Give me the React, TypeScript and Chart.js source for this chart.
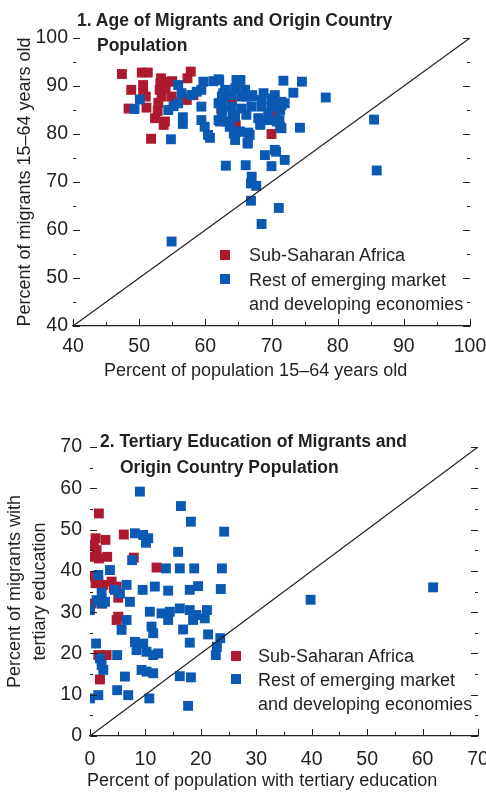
import React, { useEffect, useRef } from 'react';
import { Chart, registerables } from 'chart.js';

Chart.register(...registerables);

const RED = '#ad1a2e';
const BLUE = '#0a5ab4';
const INK = '#231f20';
const SANS = '"Liberation Sans", Arial, sans-serif';
const FONT_SIZE = 18;
const TICK_SIZE = 19.5;

// Panel 1: [percent of population 15–64, percent of migrants 15–64]
const ageSSA: number[][] = [
  [47.4, 92.5], [50.4, 92.8], [51.3, 92.8], [57.8, 93.0], [57.3, 91.6], [48.8, 89.2], [50.6, 90.2],
  [50.6, 88.5], [51.0, 87.8], [53.3, 91.6], [53.2, 90.6], [54.4, 90.9], [53.1, 89.2], [53.4, 87.8],
  [54.9, 87.8], [48.4, 85.3], [51.1, 85.5], [52.9, 86.5], [52.4, 83.3], [53.9, 82.6], [53.7, 81.9],
  [51.8, 79.0], [55.4, 86.7], [56.9, 87.4], [58.2, 88.1], [57.2, 87.1], [70.0, 80.0], [70.5, 84.4],
  [52.8, 84.8], [54.0, 89.5], [55.0, 91.0], [64.0, 86.7], [64.6, 81.8], [62.4, 85.2],
];
const ageRest: number[][] = [
  [49.3, 85.2], [50.1, 87.2], [54.8, 78.9], [56.6, 83.5], [56.6, 82.1], [54.4, 85.0], [55.2, 85.8],
  [55.9, 86.4], [55.9, 90.2], [56.4, 88.5], [57.9, 88.1], [58.7, 88.8], [59.4, 89.2], [59.7, 90.9],
  [61.2, 91.0], [62.0, 91.4], [62.7, 88.5], [59.4, 85.7], [59.4, 82.9], [59.9, 81.5], [60.4, 79.8],
  [60.7, 79.2], [62.0, 86.4], [62.5, 85.0], [62.0, 82.9], [63.2, 82.6], [63.7, 81.5], [64.1, 83.9],
  [64.3, 80.1], [65.2, 80.5], [66.5, 80.3], [66.4, 78.2], [68.3, 81.9], [69.5, 82.9], [71.2, 82.9],
  [71.5, 81.2], [70.8, 86.0], [72.0, 86.4], [70.5, 88.1], [68.8, 88.5], [67.1, 88.1], [66.0, 89.2],
  [66.2, 87.8], [64.5, 89.5], [64.7, 91.25], [65.3, 91.25], [63.0, 89.2], [62.7, 87.8], [62.2, 86.4],
  [62.1, 91.2], [71.8, 91.1], [74.6, 90.9], [73.3, 88.6], [78.2, 87.6], [74.3, 81.3],
  [62.5, 87.8], [64.0, 88.1], [65.5, 87.8], [67.0, 87.8], [68.5, 87.1], [70.0, 87.4], [71.5, 86.7],
  [62.5, 86.0], [64.0, 85.7], [65.5, 85.3], [67.0, 85.7], [68.5, 85.7], [70.0, 85.7], [71.5, 86.0],
  [62.5, 84.3], [64.5, 83.6], [66.2, 84.0], [68.0, 83.3], [69.5, 84.3], [71.3, 85.0], [62.2, 82.6],
  [63.7, 81.9], [65.2, 80.5], [66.7, 79.8], [68.3, 82.2], [70.8, 82.6], [71.3, 81.5], [64.5, 78.75],
  [66.4, 78.0], [70.5, 76.7], [69.0, 75.6], [70.7, 76.3], [72.0, 74.6], [63.1, 73.4], [66.1, 73.5],
  [70.0, 73.3], [67.0, 71.1], [66.9, 69.7], [67.7, 69.2], [66.9, 66.1], [68.5, 61.25], [71.1, 64.6],
  [54.9, 57.6], [85.5, 83.0], [85.9, 72.4],
];

// Panel 2: [percent of population with tertiary education, percent of migrants with tertiary education]
const eduSSA: number[][] = [
  [1.6, 53.9], [1.0, 47.9], [2.8, 47.5], [0.7, 46.2], [6.1, 48.8], [0.7, 43.4], [3.1, 43.4],
  [1.6, 43.0], [1.2, 45.0], [7.9, 43.2], [12.0, 40.8], [0.6, 38.6], [1.5, 37.4], [2.4, 36.6],
  [3.9, 37.4], [4.8, 36.2], [1.0, 37.0], [4.3, 35.8], [0.3, 32.1], [2.2, 32.1], [5.1, 33.5],
  [5.1, 28.9], [4.8, 28.1], [1.5, 19.6], [3.0, 19.6], [1.8, 13.7],
];
const eduRest: number[][] = [
  [9.0, 59.2], [16.4, 55.7], [18.2, 51.9], [24.2, 49.5], [8.1, 49.1], [9.6, 48.7], [10.5, 47.9],
  [10.1, 46.8], [15.9, 44.6], [7.6, 42.6], [13.7, 40.6], [16.2, 40.6], [18.8, 40.6], [23.8, 40.6],
  [3.6, 40.2], [1.5, 39.0], [6.6, 36.6], [9.5, 35.4], [11.7, 36.2], [14.1, 35.2], [18.0, 35.4],
  [19.5, 36.3], [23.6, 35.6], [4.5, 35.4], [2.1, 34.7], [39.8, 33.0], [61.9, 36.0], [0.0, 30.5],
  [1.2, 32.9], [2.1, 32.1], [2.7, 32.5], [7.2, 32.5], [5.4, 34.5], [5.7, 25.7], [6.6, 28.1],
  [10.8, 30.1], [12.9, 29.7], [14.4, 30.1], [16.2, 30.9], [18.0, 30.5], [19.2, 29.3], [21.1, 30.5],
  [14.1, 28.1], [18.6, 28.1], [20.7, 28.5], [11.1, 26.5], [11.4, 24.9], [16.8, 25.8], [21.3, 24.6],
  [23.5, 23.7], [22.9, 21.6], [22.7, 19.6], [8.1, 22.8], [9.6, 22.4], [8.4, 20.8], [10.2, 20.4],
  [11.4, 19.6], [12.3, 20.0], [18.0, 22.6], [1.1, 22.4], [1.8, 18.8], [2.1, 17.2], [2.4, 16.0],
  [4.9, 19.6], [9.3, 16.0], [10.2, 15.6], [11.4, 15.2], [16.2, 14.5], [18.2, 14.2], [6.3, 14.4],
  [4.9, 11.1], [6.9, 9.9], [1.5, 9.9], [0.0, 9.1], [10.7, 9.1], [17.7, 7.3],
];

const ageRange = [40, 100];
const eduRange = [0, 70];
const tickStep = 10;

const legendLabels = ['Sub-Saharan Africa', 'Rest of emerging market', 'and developing economies'];
const title1 = ['1. Age of Migrants and Origin Country', 'Population'];
const title2 = ['2. Tertiary Education of Migrants and', 'Origin Country Population'];
const xTitle1 = 'Percent of population 15\u201364 years old';
const yTitle1 = 'Percent of migrants 15\u201364 years old';
const xTitle2 = 'Percent of population with tertiary education';
const yTitle2 = ['Percent of migrants with', 'tertiary education'];

function marksPlugin(step: number) {
  return {
    id: 'marks',
    afterDraw(chart: any) {
      const { ctx, chartArea } = chart;
      const { left, right, bottom } = chartArea;
      const xs = chart.scales.x;
      const ys = chart.scales.y;
      const half = step / 2;
      ctx.save();
      ctx.strokeStyle = INK;
      ctx.lineWidth = 1;
      ctx.beginPath();
      for (let i = 0; xs.min + i * half <= xs.max + 1e-9; i++) {
        const v = xs.min + i * half;
        const len = i % 2 === 0 ? 7 : 4;
        const px = Math.round(xs.getPixelForValue(v)) + 0.5;
        ctx.moveTo(px, bottom);
        ctx.lineTo(px, bottom - len);
      }
      for (let i = 0; ys.min + i * half <= ys.max + 1e-9; i++) {
        const v = ys.min + i * half;
        const len = i % 2 === 0 ? 7 : 3;
        const py = Math.round(ys.getPixelForValue(v)) + 0.5;
        ctx.moveTo(left, py);
        ctx.lineTo(left + len, py);
        ctx.moveTo(right - len, py);
        ctx.lineTo(right, py);
      }
      ctx.stroke();
      ctx.restore();
    },
  };
}

type Spec = {
  range: number[];
  ssa: number[][];
  rest: number[][];
  yTitle: string | string[];
  yTitleLineHeight: number;
  padding: { top: number; right: number; bottom: number; left: number };
  yWidth: number;
  xHeight: number;
  yTitlePad: number;
  xTickPad: number;
  yTickPad: number;
};

function makeChart(canvas: HTMLCanvasElement, s: Spec) {
  const font = { family: SANS, size: FONT_SIZE };
  const tickFont = { family: SANS, size: TICK_SIZE };
  const [lo, hi] = s.range;
  return new Chart(canvas, {
    type: 'scatter',
    data: {
      datasets: [
        {
          data: [{ x: lo, y: lo }, { x: hi, y: hi }],
          showLine: true,
          borderColor: INK,
          borderWidth: 1.2,
          pointRadius: 0,
          backgroundColor: INK,
        },
        {
          data: s.rest.map(([x, y]) => ({ x, y })),
          backgroundColor: BLUE,
          borderWidth: 0,
          pointStyle: 'rect',
          pointRadius: 7,
        },
        {
          data: s.ssa.map(([x, y]) => ({ x, y })),
          backgroundColor: RED,
          borderWidth: 0,
          pointStyle: 'rect',
          pointRadius: 7,
        },
      ],
    } as any,
    options: {
      responsive: false,
      animation: false,
      devicePixelRatio: 1,
      layout: { padding: s.padding },
      plugins: { legend: { display: false }, tooltip: { enabled: false }, title: { display: false } },
      scales: {
        x: {
          type: 'linear',
          min: lo,
          max: hi,
          ticks: { stepSize: tickStep, color: INK, font: tickFont, padding: s.xTickPad, maxRotation: 0, autoSkip: false },
          grid: { display: false, drawTicks: false },
          border: { display: true, color: INK, width: 1.2 },
          title: { display: false },
          afterFit: (sc: any) => {
            sc.height = s.xHeight;
            sc.paddingLeft = 0;
            sc.paddingRight = 0;
          },
        },
        y: {
          type: 'linear',
          min: lo,
          max: hi,
          ticks: { stepSize: tickStep, color: INK, font: tickFont, padding: s.yTickPad },
          grid: { display: false, drawTicks: false },
          border: { display: false },
          title: {
            display: true,
            text: s.yTitle,
            color: INK,
            font: { ...font, lineHeight: s.yTitleLineHeight },
            padding: { top: s.yTitlePad, bottom: 0 },
          },
          afterFit: (sc: any) => {
            sc.width = s.yWidth;
            sc.paddingTop = 0;
            sc.paddingBottom = 0;
          },
        },
      },
    } as any,
    plugins: [marksPlugin(tickStep)],
  });
}

const textBase: React.CSSProperties = {
  position: 'absolute',
  whiteSpace: 'nowrap',
  color: INK,
  margin: 0,
  fontFamily: SANS,
};

function Legend({ squareLeft, textLeft, tops }: { squareLeft: number; textLeft: number; tops: number[] }) {
  return (
    <>
      <div style={{ position: 'absolute', left: squareLeft, top: tops[0] + 6.5, width: 10, height: 10, background: RED }} />
      <div style={{ position: 'absolute', left: squareLeft, top: tops[1] + 6, width: 10, height: 10, background: BLUE }} />
      {legendLabels.map((t, i) => (
        <div key={i} style={{ ...textBase, left: textLeft, top: tops[i], fontSize: FONT_SIZE, lineHeight: '24px' }}>
          {t}
        </div>
      ))}
    </>
  );
}

function Title({ lines, left, indent, tops }: { lines: string[]; left: number; indent: number; tops: number[] }) {
  return (
    <>
      {lines.map((t, i) => (
        <div
          key={i}
          style={{
            ...textBase,
            left: left + (i === 0 ? 0 : indent),
            top: tops[i],
            fontWeight: 700,
            fontSize: 17.5,
            lineHeight: '25px',
          }}
        >
          {t}
        </div>
      ))}
    </>
  );
}

function AxisTitle({ text, left, top }: { text: string; left: number; top: number }) {
  return (
    <div style={{ ...textBase, left, top, fontSize: FONT_SIZE, lineHeight: '22px' }}>{text}</div>
  );
}

export default function App() {
  const c1 = useRef<HTMLCanvasElement>(null);
  const c2 = useRef<HTMLCanvasElement>(null);

  useEffect(() => {
    const ch1 = makeChart(c1.current!, {
      range: ageRange,
      ssa: ageSSA,
      rest: ageRest,
      yTitle: yTitle1,
      yTitleLineHeight: 1.2,
      padding: { top: 38, right: 16, bottom: 10, left: 0 },
      yWidth: 73,
      xHeight: 60,
      yTitlePad: 14.2,
      xTickPad: 9.3,
      yTickPad: 5,
    });
    const ch2 = makeChart(c2.current!, {
      range: eduRange,
      ssa: eduSSA,
      rest: eduRest,
      yTitle: yTitle2,
      yTitleLineHeight: 1.39,
      padding: { top: 51, right: 8, bottom: 0, left: 0 },
      yWidth: 90,
      xHeight: 60,
      yTitlePad: 2.5,
      xTickPad: 12.3,
      yTickPad: 8,
    });
    return () => {
      ch1.destroy();
      ch2.destroy();
    };
  }, []);

  return (
    <div
      style={{
        position: 'absolute',
        left: 0,
        top: 0,
        width: 486,
        height: 796,
        overflow: 'hidden',
        background: '#ffffff',
      }}
    >
      <canvas ref={c1} width={486} height={396} style={{ position: 'absolute', left: 0, top: 0, display: 'block' }} />
      <canvas ref={c2} width={486} height={400} style={{ position: 'absolute', left: 0, top: 396, display: 'block' }} />
      <Title lines={title1} left={77} indent={20} tops={[8.4, 33.4]} />
      <Title lines={title2} left={100} indent={20} tops={[429.4, 455.4]} />
      <Legend squareLeft={220} textLeft={249} tops={[243.3, 267.8, 291.8]} />
      <Legend squareLeft={231} textLeft={258} tops={[644.3, 668.3, 692.3]} />
      <AxisTitle text={xTitle1} left={104} top={358.8} />
      <AxisTitle text={xTitle2} left={87} top={768.8} />
    </div>
  );
}
